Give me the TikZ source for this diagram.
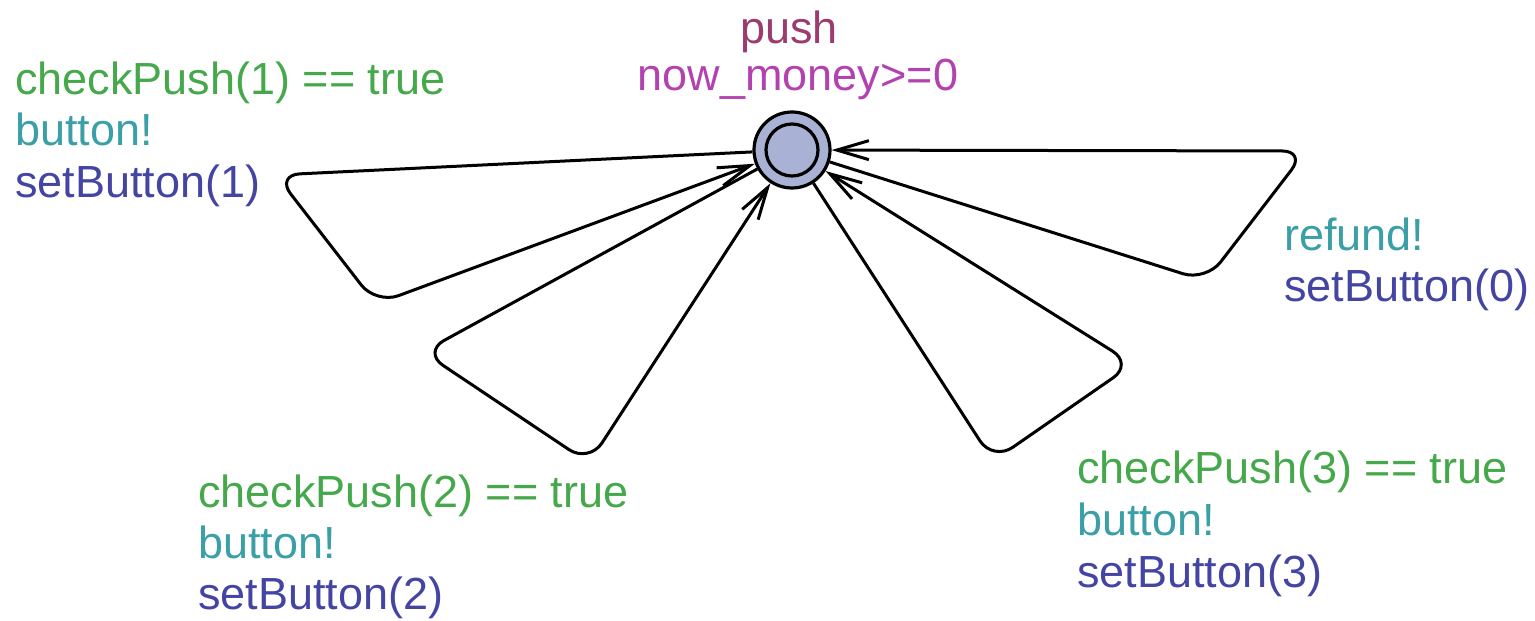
\documentclass[tikz,border=0pt]{standalone}
\usepackage{fontspec}
\setmainfont{Liberation Sans}
\usetikzlibrary{arrows.meta}
\definecolor{guardc}{HTML}{45A84A}
\definecolor{syncc}{HTML}{3A9FA6}
\definecolor{updc}{HTML}{4444A2}
\definecolor{namec}{HTML}{9B3B6E}
\definecolor{invc}{HTML}{B342B0}
\definecolor{statefill}{HTML}{A9B2D5}
\begin{document}
\begin{tikzpicture}[x=1pt,y=-1pt,
  lbl/.style={anchor=base west, inner sep=0pt, font=\fontsize{45}{52}\selectfont},
  guard/.style={lbl, text=guardc},
  sync/.style={lbl, text=syncc},
  upd/.style={lbl, text=updc},
  loopedge/.style={line width=3pt, rounded corners=24pt, -{Straight Barb[length=32pt,width=19pt]}},
  statenode/.style={circle, draw, line width=3.2pt, fill=statefill, minimum size=76pt, inner sep=0pt},
  innernode/.style={circle, draw, line width=3.2pt, minimum size=52pt, inner sep=0pt}
]
\useasboundingbox (0,0) rectangle (1535,621);
\node[statenode] (n) at (792,150) {};
\node[innernode] (ni) at (n.center) {};
% state labels
\node[lbl, anchor=base, text=namec] (push) at (789,43) {push};
\node[lbl, anchor=base, text=invc] (inv) at (798,90) {now\_money>=0};
% loop corners
\coordinate (L1) at (276,175);
\coordinate (B1) at (376,304);
\coordinate (L2) at (423,352);
\coordinate (B2) at (589,463);
\coordinate (B3) at (993,461);
\coordinate (R3) at (1133,364);
\coordinate (B4) at (1206,281);
\coordinate (R4) at (1306,151);
\draw[loopedge] (n) -- (L1) -- (B1) -- (n);
\draw[loopedge] (n) -- (L2) -- (B2) -- (n);
\draw[loopedge] (n) -- (B3) -- (R3) -- (n);
\draw[loopedge] (n) -- (B4) -- (R4) -- (n);
% loop 1 labels
\node[guard] (g1) at (15,94) {checkPush(1) == true};
\node[sync] (s1) at (15,145.5) {button!};
\node[upd] (u1) at (15,197) {setButton(1)};
% loop 2 labels
\node[guard] (g2) at (198,507) {checkPush(2) == true};
\node[sync] (s2) at (198,558) {button!};
\node[upd] (u2) at (198,609) {setButton(2)};
% loop 3 labels
\node[guard] (g3) at (1077,483) {checkPush(3) == true};
\node[sync] (s3) at (1077,535) {button!};
\node[upd] (u3) at (1077,587) {setButton(3)};
% loop 4 labels
\node[sync] (s4) at (1284,250) {refund!};
\node[upd] (u4) at (1284,301) {setButton(0)};
\end{tikzpicture}
\end{document}
